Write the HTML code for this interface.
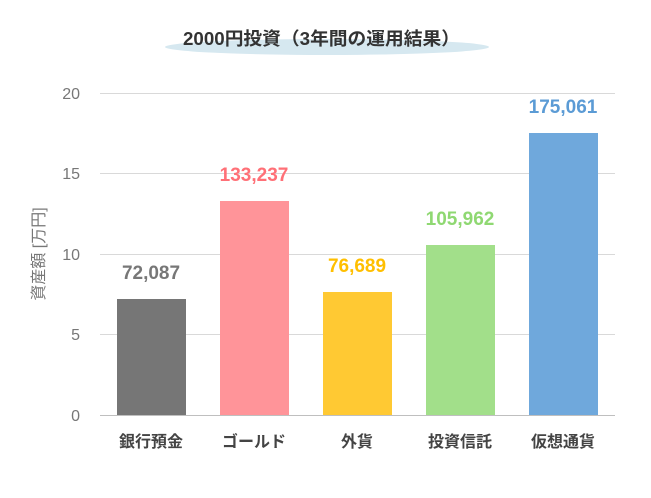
<!DOCTYPE html>
<html><head><meta charset="utf-8"><style>
body{margin:0;background:#fff;}
text{font-family:"Liberation Sans","Noto Sans CJK JP",sans-serif;}
</style></head><body>
<svg width="651" height="493" xmlns="http://www.w3.org/2000/svg">
<rect width="651" height="493" fill="#fff"/>
<ellipse cx="327" cy="47" rx="162" ry="8" fill="#d6e8f0"/>
<text x="183" y="45" textLength="277" lengthAdjust="spacingAndGlyphs" font-size="18" font-weight="bold" fill="#333">2000円投資（3年間の運用結果）</text>
<g stroke="#d9d9d9" stroke-width="1">
<line x1="100" y1="93.5" x2="615" y2="93.5"/>
<line x1="100" y1="173.5" x2="615" y2="173.5"/>
<line x1="100" y1="254.5" x2="615" y2="254.5"/>
<line x1="100" y1="334.5" x2="615" y2="334.5"/>
</g>
<line x1="100" y1="415.5" x2="615" y2="415.5" stroke="#bfbfbf"/>
<g font-size="16" fill="#777" text-anchor="end">
<text x="80" y="99">20</text><text x="80" y="179">15</text><text x="80" y="260">10</text><text x="80" y="340">5</text><text x="80" y="421">0</text>
</g>
<text transform="translate(44,254) rotate(-90)" text-anchor="middle" font-size="16" fill="#777">資産額 [万円]</text>
<rect x="117" y="299" width="69" height="116" fill="#767676"/>
<rect x="220" y="201" width="69" height="214" fill="#ff9499"/>
<rect x="323" y="292" width="69" height="123" fill="#ffc933"/>
<rect x="426" y="245" width="69" height="170" fill="#a2df8a"/>
<rect x="529" y="133" width="69" height="282" fill="#6fa8dc"/>
<g font-size="19" font-weight="bold" text-anchor="middle">
<text x="151" y="279" fill="#777">72,087</text>
<text x="254" y="181" fill="#ff7077">133,237</text>
<text x="357" y="272" fill="#ffbf00">76,689</text>
<text x="460" y="225" fill="#8fd872">105,962</text>
<text x="563" y="113" fill="#5b9bd5">175,061</text>
</g>
<g font-size="16" font-weight="bold" fill="#444" text-anchor="middle">
<text x="151" y="447">銀行預金</text>
<text x="254" y="447">ゴールド</text>
<text x="357" y="447">外貨</text>
<text x="460" y="447">投資信託</text>
<text x="563" y="447">仮想通貨</text>
</g>
</svg>
</body></html>
